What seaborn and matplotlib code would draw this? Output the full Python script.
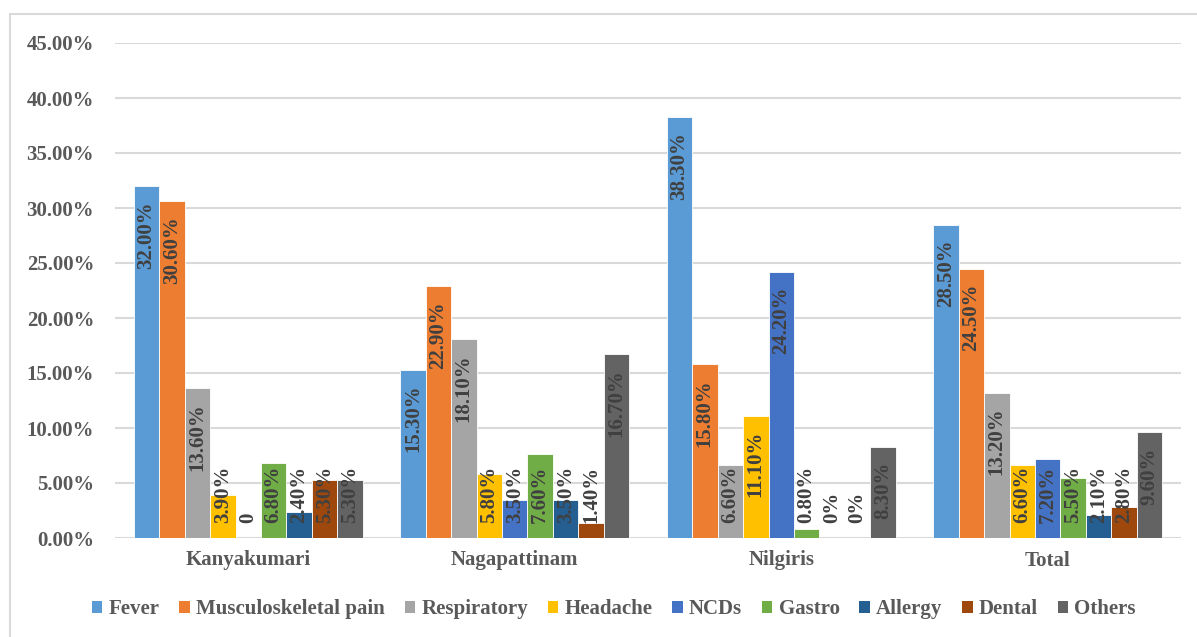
import matplotlib
matplotlib.use("Agg")
import matplotlib.pyplot as plt
from matplotlib.patches import Rectangle, Patch
from matplotlib.ticker import FuncFormatter, MultipleLocator
import seaborn as sns
import pandas as pd

# ---- data (percent of complaints per district) ----
districts = ["Kanyakumari", "Nagapattinam", "Nilgiris", "Total"]
conditions = ["Fever", "Musculoskeletal pain", "Respiratory", "Headache",
              "NCDs", "Gastro", "Allergy", "Dental", "Others"]
fever = [32.00, 15.30, 38.30, 28.50]
musculoskeletal = [30.60, 22.90, 15.80, 24.50]
respiratory = [13.60, 18.10, 6.60, 13.20]
headache = [3.90, 5.80, 11.10, 6.60]
ncds = [0.00, 3.50, 24.20, 7.20]
gastro = [6.80, 7.60, 0.80, 5.50]
allergy = [2.40, 3.50, 0.00, 2.10]
dental = [5.30, 1.40, 0.00, 2.80]
others = [5.30, 16.70, 8.30, 9.60]
zero_labels = {"Kanyakumari": "0", "Nagapattinam": "0%", "Nilgiris": "0%", "Total": "0%"}

series = [fever, musculoskeletal, respiratory, headache, ncds,
          gastro, allergy, dental, others]
colors = ["#5B9BD5", "#ED7D31", "#A5A5A5", "#FFC000", "#4472C4",
          "#70AD47", "#255E91", "#9E480E", "#636363"]

rows = []
for cond, vals in zip(conditions, series):
    for d, v in zip(districts, vals):
        rows.append({"District": d, "Condition": cond, "Share": v})
df = pd.DataFrame(rows)

sns.set_theme(style="white")
plt.rcParams["font.family"] = ["Liberation Serif", "DejaVu Serif"]
plt.rcParams["font.weight"] = "bold"

W, H = 1197, 637
fig = plt.figure(figsize=(W / 100, H / 100), dpi=100)
ax = fig.add_axes([115 / W, 1 - 538 / H, (1181 - 115) / W, (538 - 43) / H])

sns.barplot(data=df, x="District", y="Share", hue="Condition",
            order=districts, hue_order=conditions, palette=colors,
            saturation=1, width=0.86, edgecolor="white", linewidth=0.6,
            errorbar=None, legend=False, ax=ax)

ax.set_ylim(0, 45)
ax.set_xlim(-0.5, len(districts) - 0.5)
ax.yaxis.set_major_locator(MultipleLocator(5))
ax.yaxis.set_major_formatter(FuncFormatter(lambda v, _: f"{v:.2f}%"))
ax.grid(axis="y", color="#D9D9D9", linewidth=1.5)
ax.set_axisbelow(True)
for s in ax.spines.values():
    s.set_visible(False)
ax.tick_params(axis="both", length=0, labelsize=15, labelcolor="#595959")
ax.tick_params(axis="y", pad=15)
ax.tick_params(axis="x", pad=9)
for lab in ax.get_xticklabels() + ax.get_yticklabels():
    lab.set_fontweight("bold")
ax.set_xlabel("")
ax.set_ylabel("")

# ---- value labels: inside the bar top, pushed up from the base when short ----
fig.canvas.draw()
renderer = fig.canvas.get_renderer()
pad = 15
for cont, cond in zip(ax.containers, conditions):
    for bar, d in zip(cont, districts):
        v = bar.get_height()
        text = f"{v:.2f}%" if v > 0 else zero_labels[d]
        xc = bar.get_x() + bar.get_width() / 2
        t = ax.annotate(text, xy=(xc, 0), xytext=(0, 0),
                        textcoords="offset pixels", rotation=90,
                        ha="center", va="bottom", fontsize=15,
                        fontweight="bold", color="#404040")
        length = t.get_window_extent(renderer).height
        base_px = ax.transData.transform((xc, 0))[1]
        top_px = ax.transData.transform((xc, v))[1]
        offset = max(pad, (top_px - base_px) - pad - length)
        t.xyann = (0, offset)

# ---- legend ----
handles = [Patch(facecolor=c, edgecolor="none") for c in colors]
fig.legend(handles, conditions, loc="center", bbox_to_anchor=(614 / W, 1 - 609 / H),
           ncol=9, frameon=False, handlelength=0.5, handleheight=0.5,
           handletextpad=0.3, columnspacing=0.95,
           prop={"weight": "bold", "size": 15})
for txt in fig.legends[0].get_texts():
    txt.set_color("#595959")

# ---- chart frame ----
fig.patches.append(Rectangle((10 / W, -0.2), 1.2, 1.2 - 13.5 / H,
                             transform=fig.transFigure, fill=False,
                             edgecolor="#D9D9D9", linewidth=1.5))

fig.savefig("out.png", dpi=100)
